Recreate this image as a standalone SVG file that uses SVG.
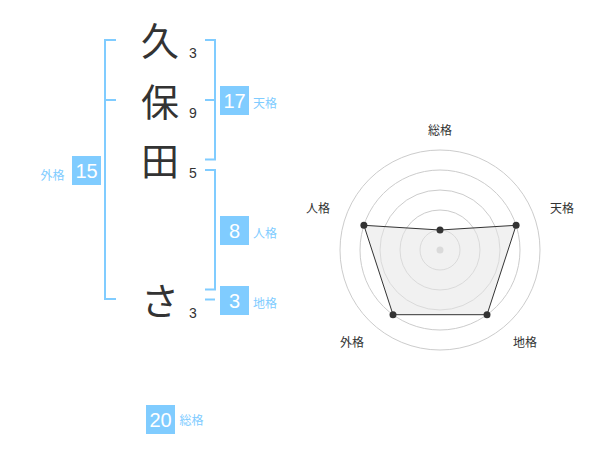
<svg xmlns="http://www.w3.org/2000/svg" width="600" height="470" viewBox="0 0 600 470">
<style>
.ch{font-family:"Noto Sans CJK JP","Noto Sans",sans-serif;font-size:38px;fill:#333;text-anchor:middle}
.sn{font-family:"Liberation Sans","Noto Sans",sans-serif;font-size:14px;fill:#333;text-anchor:middle}
.br{fill:none;stroke:#80ccff;stroke-width:2}
.box{fill:#80ccff}
.bn{font-family:"Liberation Sans","Noto Sans",sans-serif;font-size:20px;fill:#fff;text-anchor:middle}
.lb{font-family:"Noto Sans CJK JP","Noto Sans",sans-serif;font-size:12px;fill:#80ccff;text-anchor:middle}
.rl{font-family:"Noto Sans CJK JP","Noto Sans",sans-serif;font-size:12px;fill:#333;text-anchor:middle}
.ring{fill:none;stroke:#ccc;stroke-width:1}
.pt{fill:#333}
</style>
<rect width="600" height="470" fill="#fff"/>
<g id="name">
<text class="ch" x="160" y="55">久</text>
<text class="ch" x="160" y="116">保</text>
<text class="ch" x="160" y="175">田</text>
<text class="ch" x="160" y="315">さ</text>
<text class="sn" x="193" y="57.5">3</text>
<text class="sn" x="193" y="117.5">9</text>
<text class="sn" x="193" y="177.5">5</text>
<text class="sn" x="193" y="318">3</text>
</g>
<g id="connectors">
<path class="br" d="M116 40H105V299H116M105 100H116"/>
<path class="br" d="M205 40H215V159.5H205M205 100H215"/>
<path class="br" d="M205 170H215V289.5H205"/>
<path class="br" d="M205 299.5H215"/>
</g>
<g id="gaikaku">
<rect class="box" x="72" y="156" width="29" height="29"/>
<text class="bn" x="86.5" y="177.5">15</text>
<text class="lb" x="52.5" y="180">外格</text>
</g>
<g id="tenkaku">
<rect class="box" x="220" y="86" width="29" height="29"/>
<text class="bn" x="234.5" y="107.5">17</text>
<text class="lb" x="265" y="108">天格</text>
</g>
<g id="jinkaku">
<rect class="box" x="220" y="216" width="29" height="29"/>
<text class="bn" x="234.5" y="237.5">8</text>
<text class="lb" x="265" y="238">人格</text>
</g>
<g id="chikaku">
<rect class="box" x="220" y="286" width="29" height="29"/>
<text class="bn" x="234.5" y="307.5">3</text>
<text class="lb" x="265" y="308">地格</text>
</g>
<g id="soukaku">
<rect class="box" x="146" y="405" width="29" height="29"/>
<text class="bn" x="160.5" y="426.5">20</text>
<text class="lb" x="191.5" y="425">総格</text>
</g>
<g id="radar">
<circle class="ring" cx="440" cy="250" r="20"/>
<circle class="ring" cx="440" cy="250" r="40"/>
<circle class="ring" cx="440" cy="250" r="60"/>
<circle class="ring" cx="440" cy="250" r="80"/>
<circle class="ring" cx="440" cy="250" r="100"/>
<circle cx="440" cy="250" r="3.5" fill="#ccc"/>
<polygon points="440,230 516.1,225.3 487,314.7 393,314.7 363.9,225.3" fill="#e6e6e6" fill-opacity="0.55" stroke="#333" stroke-width="1"/>
<circle class="pt" cx="440" cy="230" r="3.5"/>
<circle class="pt" cx="516.1" cy="225.3" r="3.5"/>
<circle class="pt" cx="487" cy="314.7" r="3.5"/>
<circle class="pt" cx="393" cy="314.7" r="3.5"/>
<circle class="pt" cx="363.9" cy="225.3" r="3.5"/>
<text class="rl" x="440" y="135">総格</text>
<text class="rl" x="562" y="213">天格</text>
<text class="rl" x="318" y="213">人格</text>
<text class="rl" x="525" y="347">地格</text>
<text class="rl" x="352" y="347">外格</text>
</g>
</svg>
